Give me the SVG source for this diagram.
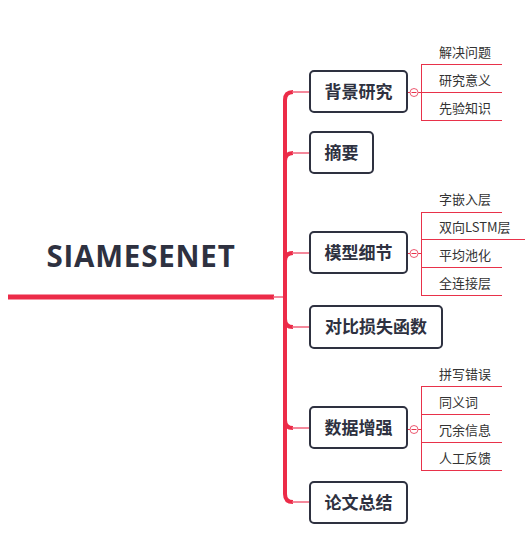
<svg xmlns="http://www.w3.org/2000/svg" width="525" height="537" viewBox="0 0 525 537">
<style>
.node rect{fill:#fff;stroke:#2e3140;stroke-width:2}
.node text{font-family:"Noto Sans CJK SC","Noto Sans",sans-serif;font-weight:bold;font-size:17px;fill:#2e3140}
.child{font-family:"Noto Sans CJK SC","Noto Sans",sans-serif;font-size:13px;fill:#333}
.trunk{fill:none;stroke:#ec2b48;stroke-width:4;stroke-linecap:butt}
.br{stroke:#f0607a;stroke-width:1.5}
.cl{stroke:#e8324a;stroke-width:1;fill:none}
.col{fill:#fff;stroke:#ec5b72;stroke-width:1}
</style>
<rect width="525" height="537" fill="#fff"/>
<g id="root">
<text x="141" y="267" font-family="Open Sans, Noto Sans, sans-serif" font-weight="bold" font-size="29.5" letter-spacing="0.8" fill="#2e3140" text-anchor="middle">SIAMESENET</text>
<rect x="8" y="294.5" width="266" height="5" fill="#ec2b48"/>
</g>
<g id="connectors">
<line x1="273" y1="297" x2="285" y2="297" class="br"/>
<path class="trunk" d="M285,297 V100 Q285,92 293,92"/>
<path class="trunk" d="M285,297 V161 Q285,153 293,153"/>
<path class="trunk" d="M285,297 V261 Q285,253 293,253"/>
<path class="trunk" d="M285,297 V319 Q285,327 293,327"/>
<path class="trunk" d="M285,297 V420 Q285,428 293,428"/>
<path class="trunk" d="M285,297 V494 Q285,502 293,502"/>
<line x1="292" y1="92" x2="309" y2="92" class="br"/>
<line x1="292" y1="153" x2="309" y2="153" class="br"/>
<line x1="292" y1="253" x2="309" y2="253" class="br"/>
<line x1="292" y1="327" x2="309" y2="327" class="br"/>
<line x1="292" y1="428" x2="309" y2="428" class="br"/>
<line x1="292" y1="502" x2="309" y2="502" class="br"/>
<path class="cl" d="M408,92.5 H421.5 M421.5,64.5 V120.5 M421,64.5 H502 M421,92.5 H502 M421,120.5 H502"/>
<path class="cl" d="M408,253.5 H421.5 M421.5,212.5 V295.5 M421,212.5 H502 M421,239.5 H525 M421,267.5 H502 M421,295.5 H502"/>
<path class="cl" d="M408,429.5 H421.5 M421.5,386.5 V470.5 M421,386.5 H502 M421,414.5 H490 M421,442.5 H502 M421,470.5 H502"/>
<circle class="col" cx="414" cy="92.5" r="4"/><line x1="411.5" y1="92.5" x2="416.5" y2="92.5" class="cl"/>
<circle class="col" cx="414" cy="253.5" r="4"/><line x1="411.5" y1="253.5" x2="416.5" y2="253.5" class="cl"/>
<circle class="col" cx="414" cy="429.5" r="4"/><line x1="411.5" y1="429.5" x2="416.5" y2="429.5" class="cl"/>
</g>
<g id="n1" class="node"><rect x="310" y="71" width="97" height="41" rx="4"/><text x="358.5" y="98" text-anchor="middle">背景研究</text></g>
<g id="n2" class="node"><rect x="310" y="132" width="63" height="41" rx="4"/><text x="341.5" y="159" text-anchor="middle">摘要</text></g>
<g id="n3" class="node"><rect x="310" y="232" width="97" height="41" rx="4"/><text x="358.5" y="259" text-anchor="middle">模型细节</text></g>
<g id="n4" class="node"><rect x="310" y="306" width="132" height="42" rx="4"/><text x="376" y="333" text-anchor="middle">对比损失函数</text></g>
<g id="n5" class="node"><rect x="310" y="407" width="97" height="41" rx="4"/><text x="358.5" y="434" text-anchor="middle">数据增强</text></g>
<g id="n6" class="node"><rect x="310" y="482" width="97" height="41" rx="4"/><text x="358.5" y="509" text-anchor="middle">论文总结</text></g>
<g id="c1"><text class="child" x="439" y="57">解决问题</text></g>
<g id="c2"><text class="child" x="439" y="85">研究意义</text></g>
<g id="c3"><text class="child" x="439" y="113">先验知识</text></g>
<g id="c4"><text class="child" x="439" y="204">字嵌入层</text></g>
<g id="c5"><text class="child" x="439" y="232">双向LSTM层</text></g>
<g id="c6"><text class="child" x="439" y="260">平均池化</text></g>
<g id="c7"><text class="child" x="439" y="288">全连接层</text></g>
<g id="c8"><text class="child" x="439" y="379">拼写错误</text></g>
<g id="c9"><text class="child" x="439" y="407">同义词</text></g>
<g id="c10"><text class="child" x="439" y="435">冗余信息</text></g>
<g id="c11"><text class="child" x="439" y="463">人工反馈</text></g>
</svg>
